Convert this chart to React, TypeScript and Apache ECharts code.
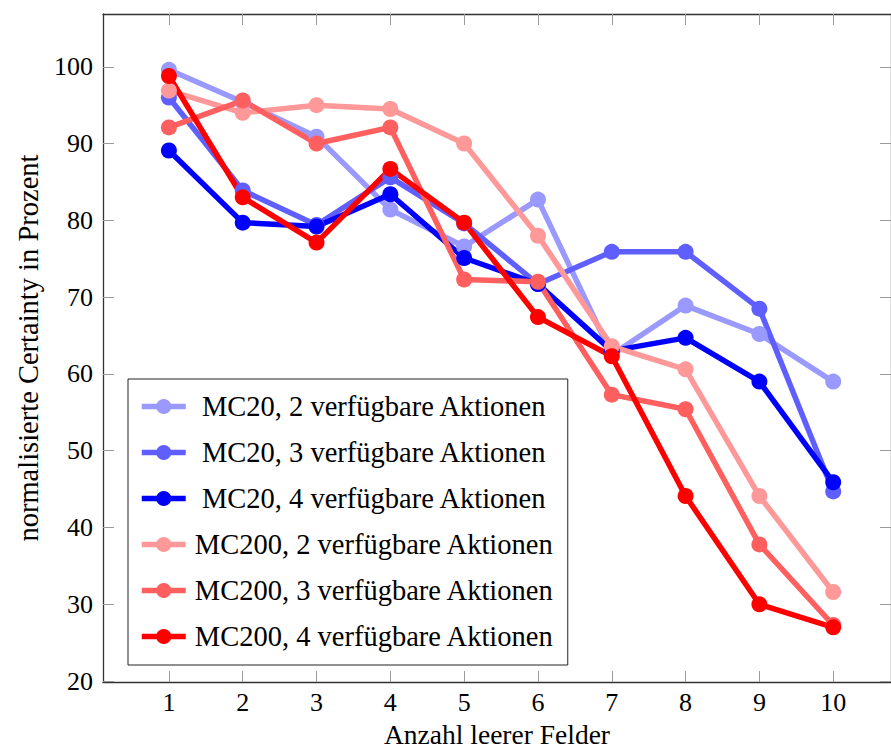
import React, { useEffect, useRef } from "react";
import * as echarts from "echarts";

const xValues = [1, 2, 3, 4, 5, 6, 7, 8, 9, 10];
const yTicks = [20, 30, 40, 50, 60, 70, 80, 90, 100];

const seriesNames = [
  "MC20, 2 verfügbare Aktionen",
  "MC20, 3 verfügbare Aktionen",
  "MC20, 4 verfügbare Aktionen",
  "MC200, 2 verfügbare Aktionen",
  "MC200, 3 verfügbare Aktionen",
  "MC200, 4 verfügbare Aktionen",
];
const seriesColors = ["#9999ff", "#5f5fff", "#0000ff", "#ff9999", "#ff5f5f", "#ff0000"];

const mc20a2 = [99.6, 95.4, 90.9, 81.4, 76.6, 82.7, 62.5, 68.9, 65.2, 59.0];
const mc20a3 = [96.0, 83.9, 79.4, 85.6, 79.6, 71.7, 75.9, 75.9, 68.5, 44.7];
const mc20a4 = [89.1, 79.7, 79.2, 83.4, 75.1, 71.7, 63.0, 64.7, 59.0, 45.9];
const mc200a2 = [96.9, 94.0, 95.0, 94.5, 90.0, 78.0, 63.6, 60.6, 44.1, 31.6];
const mc200a3 = [92.1, 95.6, 90.0, 92.1, 72.3, 72.0, 57.3, 55.4, 37.8, 27.3];
const mc200a4 = [98.8, 83.0, 77.1, 86.7, 79.7, 67.4, 62.3, 44.1, 30.0, 27.0];

const allSeries = [mc20a2, mc20a3, mc20a4, mc200a2, mc200a3, mc200a4];

const FONT = "'Liberation Serif', 'Times New Roman', serif";

export default function App() {
  const ref = useRef<HTMLDivElement>(null);

  useEffect(() => {
    if (!ref.current) return;
    const chart = echarts.init(ref.current, undefined, { renderer: "svg" });

    const tickStyle = { show: true, inside: true, length: 11, lineStyle: { color: "#9a9a9a", width: 1 } };
    const lineStyle = { show: true, lineStyle: { color: "#333", width: 1.3 } };
    const xMin = 0.107;
    const xMax = 10.783;
    const yMin = 19.87;
    const yMax = 106.87;

    const option: any = {
      animation: false,
      backgroundColor: "#fff",
      grid: { left: 103, top: 14, right: -1, bottom: 68, containLabel: false },
      xAxis: [
        {
          type: "value",
          min: xMin,
          max: xMax,
          position: "bottom",
          name: "Anzahl leerer Felder",
          nameLocation: "middle",
          nameGap: 37,
          nameTextStyle: { fontFamily: FONT, fontSize: 27.5, color: "#000" },
          axisLine: lineStyle,
          axisTick: { ...tickStyle, customValues: xValues },
          axisLabel: { customValues: xValues, fontFamily: FONT, fontSize: 26, color: "#000", margin: 7 },
          splitLine: { show: false },
        },
        {
          type: "value",
          min: xMin,
          max: xMax,
          position: "top",
          axisLine: lineStyle,
          axisTick: { ...tickStyle, customValues: xValues },
          axisLabel: { show: false },
          splitLine: { show: false },
        },
      ],
      yAxis: [
        {
          type: "value",
          min: yMin,
          max: yMax,
          position: "left",
          name: "normalisierte Certainty in Prozent",
          nameLocation: "middle",
          nameGap: 58,
          nameTextStyle: { fontFamily: FONT, fontSize: 28.5, color: "#000" },
          axisLine: lineStyle,
          axisTick: { ...tickStyle, customValues: yTicks },
          axisLabel: { customValues: yTicks, fontFamily: FONT, fontSize: 26, color: "#000", margin: 10 },
          splitLine: { show: false },
        },
        {
          type: "value",
          min: yMin,
          max: yMax,
          position: "right",
          axisLine: lineStyle,
          axisTick: { ...tickStyle, customValues: yTicks },
          axisLabel: { show: false },
          splitLine: { show: false },
        },
      ],
      legend: {
        orient: "vertical",
        left: 128,
        top: 379,
        padding: [13, 11, 14, 11],
        itemGap: 17,
        itemWidth: 44,
        itemHeight: 19,
        borderColor: "#222",
        borderWidth: 1,
        backgroundColor: "#fff",
        data: seriesNames,
        lineStyle: { width: 5.5 },
        formatter: (name: string) => `{t|${name}}`,
        textStyle: {
          rich: {
            t: { width: 366, align: "center", fontFamily: FONT, fontSize: 28.5, lineHeight: 30, color: "#000" },
          },
        },
      },
      series: allSeries.map((vals, i) => ({
        name: seriesNames[i],
        type: "line",
        xAxisIndex: 0,
        yAxisIndex: 0,
        data: xValues.map((x, j) => [x, vals[j]]),
        symbol: "circle",
        symbolSize: 16,
        showSymbol: true,
        lineStyle: { width: 5.5, color: seriesColors[i] },
        itemStyle: { color: seriesColors[i] },
        emphasis: { disabled: true },
      })),
    };

    chart.setOption(option);
    return () => chart.dispose();
  }, []);

  return (
    <div
      ref={ref}
      style={{ position: "absolute", left: 0, top: 0, width: 891, height: 753 }}
    />
  );
}
